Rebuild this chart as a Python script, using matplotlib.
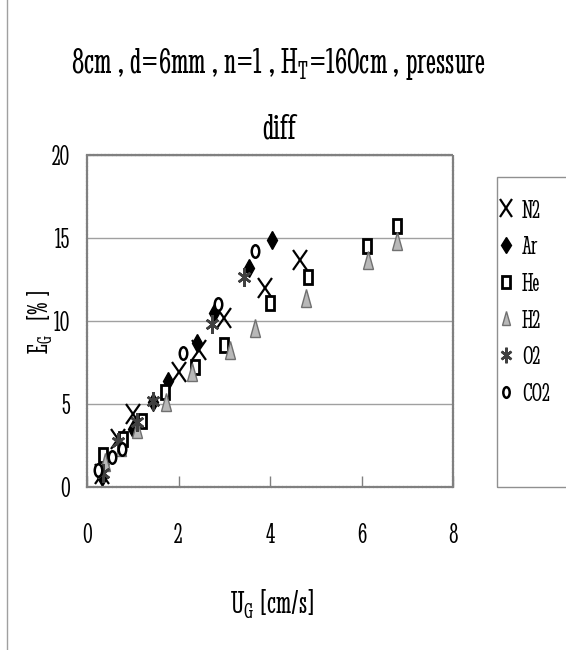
import matplotlib
matplotlib.use("Agg")
import matplotlib.pyplot as plt
from matplotlib.markers import MarkerStyle
from matplotlib.transforms import Affine2D
from matplotlib.patches import Rectangle
from matplotlib.lines import Line2D

# fonts: narrow serif look of the original, with a fallback
FAM = ['Stint Ultra Condensed', 'DejaVu Serif']
plt.rcParams['font.family'] = FAM
plt.rcParams['mathtext.fontset'] = 'custom'
plt.rcParams['mathtext.rm'] = 'Stint Ultra Condensed'

# data: U_G [cm/s] vs gas holdup [%]
n2_x = [0.33, 0.68, 1.0, 2.0, 2.45, 3.0, 3.89, 4.65]
n2_y = [0.8, 2.9, 4.4, 6.9, 8.25, 10.2, 12.0, 13.7]
ar_x = [0.32, 1.0, 1.45, 1.77, 2.4, 2.77, 3.54, 4.04]
ar_y = [0.6, 3.5, 5.1, 6.4, 8.7, 10.5, 13.2, 14.9]
he_x = [0.35, 0.79, 1.2, 1.7, 2.36, 3.0, 4.0, 4.83, 6.11, 6.77]
he_y = [1.9, 2.9, 4.0, 5.7, 7.2, 8.55, 11.1, 12.65, 14.5, 15.7]
h2_x = [0.39, 0.75, 1.1, 1.72, 2.3, 3.12, 3.67, 4.78, 6.14, 6.77]
h2_y = [1.5, 2.4, 3.5, 5.1, 6.9, 8.25, 9.6, 11.4, 13.7, 14.8]
o2_x = [0.35, 0.68, 1.09, 1.44, 2.73, 3.43]
o2_y = [0.84, 2.7, 3.9, 5.2, 9.8, 12.65]
co2_x = [0.24, 0.55, 0.77, 2.1, 2.86, 3.67]
co2_y = [1.0, 1.8, 2.3, 8.1, 11.0, 14.2]

x_ticks = [0, 2, 4, 6, 8]
y_ticks = [0, 5, 10, 15, 20]


def mk(m, sx, sy):
    return MarkerStyle(m, transform=Affine2D().scale(sx, sy))


fig = plt.figure(figsize=(5.66, 6.5), dpi=100)
ax = fig.add_axes([87 / 566, 1 - 487 / 650, 366 / 566, 332 / 650])

ax.plot(n2_x, n2_y, ls='none', marker=mk('x', 0.8, 1.15), ms=13, mew=1.6, color='black', label='N2')
ax.plot(ar_x, ar_y, ls='none', marker=mk('D', 0.6, 1.0), ms=9, color='black', label='Ar')
ax.plot(he_x, he_y, ls='none', marker=mk('s', 0.6, 1.05), ms=10, mfc='white', mec='black', mew=2, label='He')
ax.plot(h2_x, h2_y, ls='none', marker=mk('^', 0.65, 1.25), ms=10, mfc='#b8b8b8', mec='#707070', mew=1, label='H2')
ax.plot(o2_x, o2_y, ls='none', marker=mk((6, 2, 0), 0.8, 1.1), ms=12, color='#404040', mew=1.8, label='O2')
ax.plot(co2_x, co2_y, ls='none', marker=mk('o', 0.6, 1.0), ms=9, mfc='white', mec='black', mew=1.8, label='CO2')

ax.set_xlim(0, 8)
ax.set_ylim(0, 20)
ax.set_xticks(x_ticks)
ax.set_yticks(y_ticks)
ax.set_xticklabels([str(t) for t in x_ticks], fontsize=21)
ax.set_yticklabels([str(t) for t in y_ticks], fontsize=21)
ax.tick_params(axis='x', direction='in', length=8, width=1, color='#808080', pad=26)
ax.tick_params(axis='y', length=0, pad=12)
ax.grid(axis='y', color='#a0a0a0', lw=1)
ax.set_axisbelow(True)
for sp in ax.spines.values():
    sp.set_color('#808080')
    sp.set_linewidth(1.6)
    sp.set_linestyle((0, (1, 0.7)))

fig.text(279 / 566, 1 - 96 / 650, '8cm , d=6mm , n=1 , H$_\\mathrm{T}$=160cm , pressure\ndiff',
         ha='center', va='center', fontsize=27.5, linespacing=2.25)
fig.text(40 / 566, 1 - 322 / 650, 'E$_\\mathrm{G}$   [% ]', rotation=90, ha='center', va='center', fontsize=21)
fig.text(272 / 566, 1 - 604 / 650, 'U$_\\mathrm{G}$ [cm/s]', ha='center', va='center', fontsize=24)

# legend frame and entries
fig.patches.append(Rectangle((497 / 566, 1 - 487 / 650), 75 / 566, 310 / 650, transform=fig.transFigure,
                             fill=False, edgecolor='#909090', lw=1))
fig.legend(loc='upper left', bbox_to_anchor=(485 / 566, 1 - 186 / 650), frameon=False, fontsize=19,
           handlelength=0.6, handletextpad=0.3, labelspacing=0.5, borderpad=0, markerscale=0.85)

# outer border of the chart area
fig.add_artist(Line2D([7 / 566, 7 / 566], [0, 1], transform=fig.transFigure, color='#a0a0a0', lw=1))

fig.savefig('out.png', dpi=100)
